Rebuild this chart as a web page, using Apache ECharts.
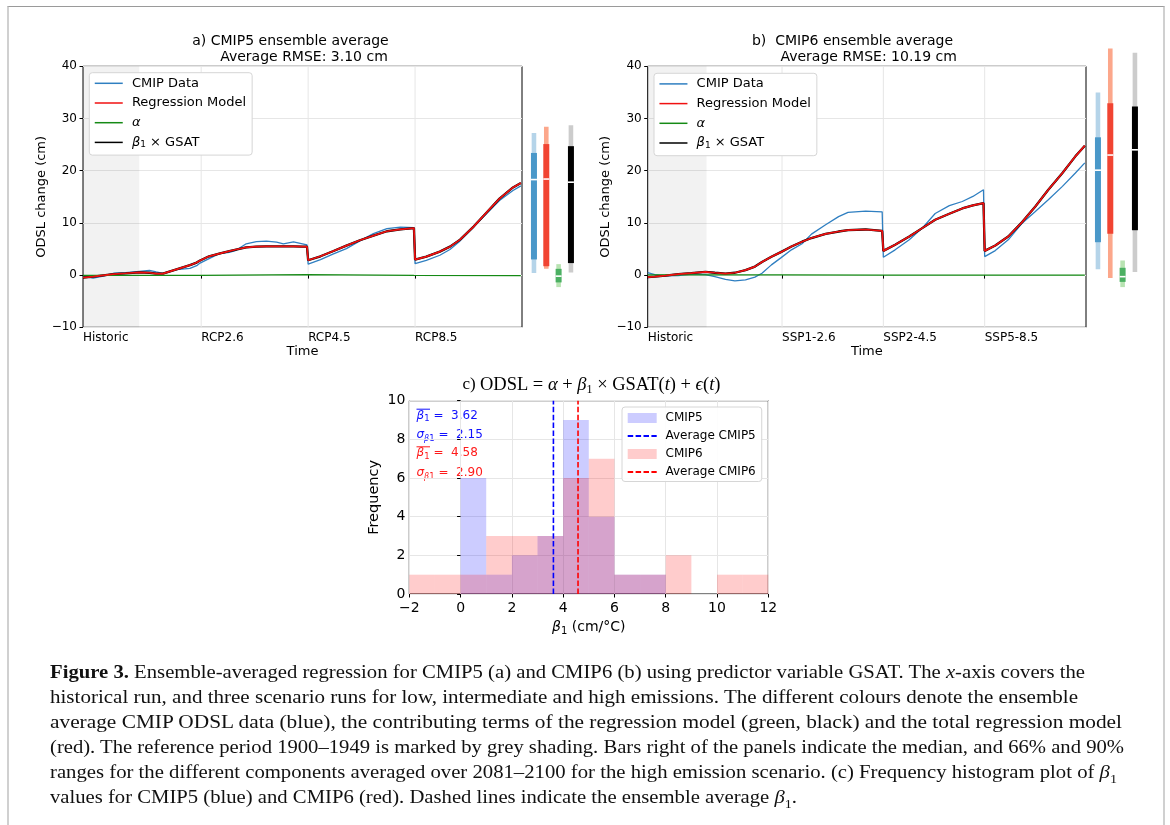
<!DOCTYPE html>
<html>
<head>
<meta charset="utf-8">
<script src="https://cdn.jsdelivr.net/npm/echarts@6/dist/echarts.min.js"></script>
<style>
    html, body { margin: 0; padding: 0; background: #fff; }
    #wrap { position: relative; width: 1170px; height: 825px; overflow: hidden; }
    #chart { position: absolute; left: 0; top: 0; width: 1170px; height: 825px; }
    #frame { position: absolute; left: 7px; top: 6px; width: 1154px; height: 840px;
        border-top: 1px solid #9a9a9a; border-left: 2px solid #d0d0d0; border-right: 2px solid #d0d0d0; }
    #caption { position: absolute; left: 50px; top: 659px; font-family: 'Liberation Serif', serif;
        font-size: 19px; line-height: 25px; color: #111; }
    #caption div { white-space: nowrap; width: max-content; transform-origin: 0 50%; }
    #caption sub { font-size: 13px; line-height: 0; }
</style>
</head>
<body>
<div id="wrap">
    <div id="chart"></div>
    <div id="frame"></div>
    <div id="caption">
        <div><b>Figure 3.</b> Ensemble-averaged regression for CMIP5 (a) and CMIP6 (b) using predictor variable GSAT. The <i>x</i>-axis covers the</div>
        <div>historical run, and three scenario runs for low, intermediate and high emissions. The different colours denote the ensemble</div>
        <div>average CMIP ODSL data (blue), the contributing terms of the regression model (green, black) and the total regression model</div>
        <div>(red). The reference period 1900–1949 is marked by grey shading. Bars right of the panels indicate the median, and 66% and 90%</div>
        <div>ranges for the different components averaged over 2081–2100 for the high emission scenario. (c) Frequency histogram plot of <i>β</i><sub>1</sub></div>
        <div>values for CMIP5 (blue) and CMIP6 (red). Dashed lines indicate the ensemble average <i>β</i><sub>1</sub>.</div>
    </div>
</div>
<script>
    // ---- panel a: CMIP5 (historic + RCP2.6 / RCP4.5 / RCP8.5)
    const histYearsA = [1901, 1910, 1919, 1928, 1939, 1951, 1960, 1966, 1972, 1984, 1996, 2002, 2005];
    const histDataA  = [-0.23, -0.6, -0.2, 0.35, 0.47, 0.73, 0.92, 0.6, 0.35, 1.05, 1.3, 1.8, 2.3];
    const histRegA   = [-0.5, -0.3, -0.05, 0.2, 0.35, 0.53, 0.45, 0.3, 0.28, 1.1, 1.9, 2.4, 2.8];
    const rcp26Years = [2006, 2013, 2022, 2031, 2037, 2046, 2055, 2064, 2073, 2079, 2088, 2096, 2100];
    const rcp26Data  = [2.4, 3.15, 4.1, 4.35, 4.75, 6.0, 6.4, 6.5, 6.3, 6.0, 6.35, 6.0, 5.77];
    const rcp26Reg   = [2.9, 3.6, 4.1, 4.6, 4.9, 5.3, 5.45, 5.5, 5.5, 5.5, 5.5, 5.45, 5.45];
    const rcp45Years = [2006, 2017, 2028, 2040, 2052, 2064, 2076, 2088, 2100];
    const rcp45Data  = [2.1, 2.97, 4.0, 5.07, 6.55, 7.95, 8.9, 9.2, 9.1];
    const rcp45Reg   = [2.85, 3.6, 4.56, 5.65, 6.67, 7.57, 8.4, 8.77, 9.0];
    const rcp85Years = [2006, 2016, 2028, 2037, 2046, 2058, 2070, 2081, 2093, 2100];
    const rcp85Data  = [2.2, 2.83, 3.8, 4.9, 6.55, 9.2, 11.9, 14.3, 16.2, 17.1];
    const rcp85Reg   = [2.97, 3.54, 4.5, 5.45, 6.8, 9.3, 12.1, 14.65, 16.8, 17.65];
    const alphaA     = [-0.05, 0.1, -0.05, -0.1];
    const ticksA     = ['Historic', 'RCP2.6', 'RCP4.5', 'RCP8.5'];

    // ---- panel b: CMIP6 (historic + SSP1-2.6 / SSP2-4.5 / SSP5-8.5)
    const histYearsB  = [1901, 1907, 1916, 1927, 1938, 1950, 1958, 1967, 1975, 1984, 1992, 1998, 2006, 2014];
    const histDataB   = [0.48, 0.1, -0.15, -0.1, 0.17, 0.1, -0.28, -0.8, -1.1, -0.92, -0.4, 0.36, 1.96, 3.3];
    const histRegB    = [-0.4, -0.3, -0.1, 0.2, 0.36, 0.6, 0.45, 0.29, 0.45, 0.95, 1.63, 2.5, 3.5, 4.4];
    const ssp126Years = [2015, 2023, 2032, 2040, 2052, 2063, 2071, 2086, 2100];
    const ssp126Data  = [3.5, 4.84, 6.0, 7.85, 9.64, 11.2, 12.0, 12.26, 12.13];
    const ssp126Reg   = [4.55, 5.47, 6.4, 7.1, 7.9, 8.35, 8.6, 8.74, 8.48];
    const ssp245Years = [2015, 2025, 2037, 2048, 2059, 2071, 2082, 2091, 2100];
    const ssp245Data  = [3.43, 4.84, 6.76, 9.0, 11.8, 13.3, 14.1, 15.07, 16.35];
    const ssp245Reg   = [4.64, 5.8, 7.4, 9.0, 10.6, 11.75, 12.77, 13.35, 13.8];
    const ssp585Years = [2015, 2024, 2035, 2047, 2058, 2069, 2081, 2092, 2100];
    const ssp585Data  = [3.55, 4.7, 6.76, 10.0, 12.2, 14.43, 17.0, 19.56, 21.5];
    const ssp585Reg   = [4.64, 5.66, 7.4, 10.2, 13.15, 16.35, 19.56, 22.75, 24.8];
    const alphaB      = [0.05, 0, 0, 0];
    const ticksB      = ['Historic', 'SSP1-2.6', 'SSP2-4.5', 'SSP5-8.5'];

    // ---- bars right of panels, order: CMIP data, regression, alpha, beta1*GSAT (2081-2100, high emission)
    const barMedianA = [18.3, 18.4, -0.2, 17.8];
    const barLo66A   = [3.0, 1.7, -1.4, 2.3];
    const barHi66A   = [23.4, 25.1, 1.2, 24.7];
    const barLo90A   = [0.4, 1.2, -2.3, 0.5];
    const barHi90A   = [27.2, 28.4, 2.1, 28.7];
    const barMedianB = [20.1, 23.0, -0.3, 24.0];
    const barLo66B   = [6.3, 7.9, -1.3, 8.6];
    const barHi66B   = [26.4, 32.9, 1.4, 32.3];
    const barLo90B   = [1.1, -0.55, -2.3, 0.6];
    const barHi90B   = [35.0, 43.4, 2.8, 42.6];

    // ---- panel c: histogram of beta1
    const binEdges    = [-2, -1, 0, 1, 2, 3, 4, 5, 6, 7, 8, 9, 10, 11, 12];
    const cmip5Counts = [0, 0, 6, 1, 2, 3, 9, 4, 1, 1, 0, 0, 0, 0];
    const cmip6Counts = [1, 1, 1, 3, 3, 3, 6, 7, 1, 1, 2, 0, 1, 1];
    const betaMean    = [3.62, 4.58];
    const betaStd     = [2.15, 2.90];

    const barColors = [
        { dark: '#4a98c9', light: '#b5d4e9' },
        { dark: '#f14432', light: '#fca78b' },
        { dark: '#4bb062', light: '#b8e3b2' },
        { dark: '#000000', light: '#cccccc' }
    ];
    const FONT = 'DejaVu Sans';
    const minus = v => String(v).replace('-', '\u2212');

    // position on the time axis: historic years first, then each scenario segment
    const posA = (s, y) => s === 0 ? y - 1901 : 105 + 95 * (s - 1) + (y - 2006);
    const posB = (s, y) => s === 0 ? y - 1901 : 114 + 86 * (s - 1) + (y - 2015);
    const tickPosA = [0, 105, 200, 295];
    const tickPosB = [0, 114, 200, 286];

    function join(pos, years, vals) {
        const out = [];
        years.forEach((ys, s) => ys.forEach((y, i) => out.push([pos(s, y), vals[s][i]])));
        return out;
    }
    function alphaLine(pos, years, alpha) {
        const out = [];
        years.forEach((ys, s) => {
            out.push([pos(s, ys[0]), alpha[s]]);
            out.push([pos(s, ys[ys.length - 1]), alpha[s]]);
        });
        return out;
    }

    const yearsA = [histYearsA, rcp26Years, rcp45Years, rcp85Years];
    const yearsB = [histYearsB, ssp126Years, ssp245Years, ssp585Years];
    const dataA = join(posA, yearsA, [histDataA, rcp26Data, rcp45Data, rcp85Data]);
    const regA  = join(posA, yearsA, [histRegA, rcp26Reg, rcp45Reg, rcp85Reg]);
    const dataB = join(posB, yearsB, [histDataB, ssp126Data, ssp245Data, ssp585Data]);
    const regB  = join(posB, yearsB, [histRegB, ssp126Reg, ssp245Reg, ssp585Reg]);

    function timeSeries(idx, data, reg, alpha, gridTicks) {
        const base = { type: 'line', xAxisIndex: idx, yAxisIndex: idx, symbol: 'none', silent: true, animation: false };
        return [
            {
                // vertical grid lines at the scenario ticks + grey reference period
                type: 'custom', xAxisIndex: idx, yAxisIndex: idx, silent: true, animation: false, z: 0,
                data: gridTicks.slice(1).map(v => [v]),
                renderItem(params, api) {
                    const p0 = api.coord([api.value(0), -10]);
                    const p1 = api.coord([api.value(0), 40]);
                    return { type: 'line', shape: { x1: p0[0], y1: p0[1], x2: p1[0], y2: p1[1] }, style: { stroke: '#e6e6e6', lineWidth: 1 } };
                },
                markArea: { silent: true, z: 0, itemStyle: { color: 'rgba(0,0,0,0.05)' }, data: [[{ xAxis: 0 }, { xAxis: 50 }]] }
            },
            Object.assign({}, base, { name: 'CMIP Data', data: data, z: 2, lineStyle: { color: '#2f7fc1', width: 1.3 }, itemStyle: { color: '#2f7fc1' } }),
            Object.assign({}, base, { name: 'β1 × GSAT', data: reg, z: 3, lineStyle: { color: '#000', width: 2.3 }, itemStyle: { color: '#000' } }),
            Object.assign({}, base, { name: 'Regression Model', data: reg, z: 4, lineStyle: { color: '#f01010', width: 1.7 }, itemStyle: { color: '#f01010' } }),
            Object.assign({}, base, { name: 'α', data: alpha, z: 3, lineStyle: { color: '#158a15', width: 1.4 }, itemStyle: { color: '#158a15' } })
        ];
    }

    function barSeries(idx, med, lo66, hi66, lo90, hi90) {
        return {
            type: 'custom', xAxisIndex: idx, yAxisIndex: idx, silent: true, clip: false, animation: false,
            data: med.map((m, i) => [i, m, lo66[i], hi66[i], lo90[i], hi90[i]]),
            renderItem(params, api) {
                const i = api.value(0);
                const med = api.coord([i, api.value(1)]);
                const l66 = api.coord([i, api.value(2)]);
                const h66 = api.coord([i, api.value(3)]);
                const l90 = api.coord([i, api.value(4)]);
                const h90 = api.coord([i, api.value(5)]);
                const c = barColors[i];
                return { type: 'group', children: [
                    { type: 'rect', shape: { x: med[0] - 2.3, y: h90[1], width: 4.6, height: l90[1] - h90[1] }, style: { fill: c.light } },
                    { type: 'rect', shape: { x: med[0] - 3, y: h66[1], width: 6, height: l66[1] - h66[1] }, style: { fill: c.dark } },
                    { type: 'rect', shape: { x: med[0] - 3, y: med[1] - 0.8, width: 6, height: 1.6 }, style: { fill: '#fff' } }
                ]};
            }
        };
    }

    function histSeries(name, counts, color) {
        return {
            type: 'custom', name: name, xAxisIndex: 4, yAxisIndex: 4, silent: true, animation: false,
            itemStyle: { color: color },
            data: counts.map((c, i) => [binEdges[i], binEdges[i + 1], c]),
            renderItem(params, api) {
                const p0 = api.coord([api.value(0), 0]);
                const p1 = api.coord([api.value(1), api.value(2)]);
                return { type: 'rect', shape: { x: p0[0], y: p1[1], width: p1[0] - p0[0], height: p0[1] - p1[1] }, style: { fill: color } };
            }
        };
    }

    function meanLine(name, v, color) {
        return { type: 'line', name: name, xAxisIndex: 4, yAxisIndex: 4, symbol: 'none', silent: true, animation: false, z: 5,
            data: [[v, 0], [v, 10]], lineStyle: { color: color, width: 1.6, type: [5.5, 2.4] }, itemStyle: { color: color } };
    }

    const tickStyle = { show: true, length: 3.5, lineStyle: { color: '#000', width: 1 } };
    const gridLine = { show: true, lineStyle: { color: '#e6e6e6', width: 1 } };

    function timeXAxis(idx, max, tickPos, labels) {
        return {
            type: 'value', gridIndex: idx, min: 0, max: max,
            name: 'Time', nameLocation: 'middle', nameGap: 18,
            nameTextStyle: { fontSize: 13, color: '#000', fontFamily: FONT },
            axisLine: { show: false },
            axisTick: Object.assign({ customValues: tickPos }, tickStyle),
            axisLabel: { customValues: tickPos, align: 'left', margin: 5, fontSize: 12, color: '#000', fontFamily: FONT,
                formatter: v => labels[tickPos.indexOf(v)] },
            splitLine: { show: false }
        };
    }
    function odslYAxis(idx) {
        return {
            type: 'value', gridIndex: idx, min: -10, max: 40, interval: 10,
            name: 'ODSL change (cm)', nameLocation: 'middle', nameGap: 35,
            nameTextStyle: { fontSize: 13, color: '#000', fontFamily: FONT },
            axisLine: { show: false }, axisTick: tickStyle,
            axisLabel: { margin: 6, fontSize: 12, color: '#000', fontFamily: FONT, formatter: minus },
            splitLine: gridLine
        };
    }

    const legendRich = {
        it: { fontStyle: 'italic', fontSize: 13, fontFamily: FONT, lineHeight: 14 },
        sub: { fontSize: 9, fontFamily: FONT, verticalAlign: 'bottom' }
    };
    const noMarker = { opacity: 0 };
    function panelLegend(left, top) {
        return {
            orient: 'vertical', left: left, top: top, selectedMode: false, z: 10,
            data: ['CMIP Data', 'Regression Model', 'α', 'β1 × GSAT'],
            padding: [3.6, 6, 5.7, 4.7], itemGap: 5.7, itemWidth: 28, itemHeight: 14,
            itemStyle: noMarker, lineStyle: { width: 1.5 },
            borderColor: '#d6d6d6', borderWidth: 1, borderRadius: 3, backgroundColor: '#ffffff',
            textStyle: { fontSize: 13, color: '#000', fontFamily: FONT, lineHeight: 14, rich: legendRich },
            formatter: n => n === 'α' ? ' {it|α}' : n === 'β1 × GSAT' ? ' {it|β}{sub|1} × GSAT' : ' ' + n
        };
    }

    // text annotations
    const txt = (x, y, text, font, align, extra) => ({ type: 'text', x: x, y: y, silent: true,
        style: Object.assign({ text: text, font: font, fill: '#000', align: align, textAlign: align,
            verticalAlign: 'middle', textVerticalAlign: 'middle' }, extra || {}) });
    const titleFont = '14px "DejaVu Sans"';
    const statColors = ['#1010ff', '#ff1a1a'];
    const statRich = c => ({
        b: { fontSize: 12, fontStyle: 'italic', fill: c, fontFamily: FONT },
        s: { fontSize: 8.5, fill: c, fontFamily: FONT, verticalAlign: 'bottom' },
        ss: { fontSize: 8, fontStyle: 'italic', fill: c, fontFamily: FONT, verticalAlign: 'bottom' },
        t: { fontSize: 12, fill: c, fontFamily: FONT }
    });
    const statY = [415.7, 435, 453.3, 473.3];
    const statGraphics = [];
    betaMean.forEach((m, k) => {
        const c = statColors[k];
        statGraphics.push(txt(416.5, statY[2 * k], '{b|β}{s|1}{t| =  ' + m.toFixed(2) + '}', '12px "DejaVu Sans"', 'left',
            { rich: statRich(c), lineHeight: 16 }));
        statGraphics.push({ type: 'line', silent: true, shape: { x1: 416.5, y1: statY[2 * k] - 6.5, x2: 430, y2: statY[2 * k] - 6.5 },
            style: { stroke: c, lineWidth: 1 } });
        statGraphics.push(txt(416.5, statY[2 * k + 1], '{b|σ}{ss|β}{s|1}{t| =  ' + betaStd[k].toFixed(2) + '}', '12px "DejaVu Sans"', 'left',
            { rich: statRich(c), lineHeight: 16 }));
    });

    const mathRich = {
        n: { fontSize: 17, fontFamily: 'Liberation Serif' },
        m: { fontSize: 18.5, fontFamily: 'Liberation Serif' },
        i: { fontSize: 18.5, fontFamily: 'Liberation Serif', fontStyle: 'italic' },
        s: { fontSize: 12, fontFamily: 'Liberation Serif', verticalAlign: 'bottom' }
    };

    const option = {
        backgroundColor: '#fff',
        animation: false,
        textStyle: { fontFamily: FONT },
        grid: [
            { left: 83, top: 66.3, width: 439, height: 261, show: true, borderColor: '#000', borderWidth: 1, backgroundColor: 'transparent' },
            { left: 527.8, top: 66.3, width: 49.3, height: 261 },
            { left: 647.7, top: 66.3, width: 438.3, height: 261, show: true, borderColor: '#000', borderWidth: 1, backgroundColor: 'transparent' },
            { left: 1091.8, top: 66.3, width: 49.3, height: 261 },
            { left: 409.3, top: 400.7, width: 359, height: 193.3, show: true, borderColor: '#000', borderWidth: 1, backgroundColor: 'transparent' }
        ],
        xAxis: [
            timeXAxis(0, 390, tickPosA, ticksA),
            { type: 'value', gridIndex: 1, min: -0.5, max: 3.5, show: false },
            timeXAxis(2, 372, tickPosB, ticksB),
            { type: 'value', gridIndex: 3, min: -0.5, max: 3.5, show: false },
            { type: 'value', gridIndex: 4, min: -2, max: 12, interval: 2,
              name: '{it|β}{sub|1} (cm/°C)', nameLocation: 'middle', nameGap: 24,
              nameTextStyle: { fontSize: 14, color: '#000', fontFamily: FONT, lineHeight: 18,
                  rich: { it: { fontSize: 14, fontStyle: 'italic', fontFamily: FONT }, sub: { fontSize: 10, fontFamily: FONT, verticalAlign: 'bottom' } } },
              axisLine: { show: false }, axisTick: tickStyle,
              axisLabel: { margin: 7, fontSize: 14, color: '#000', fontFamily: FONT, formatter: minus },
              splitLine: gridLine }
        ],
        yAxis: [
            odslYAxis(0),
            { type: 'value', gridIndex: 1, min: -10, max: 40, show: false },
            odslYAxis(2),
            { type: 'value', gridIndex: 3, min: -10, max: 40, show: false },
            { type: 'value', gridIndex: 4, min: 0, max: 10, interval: 2,
              name: 'Frequency', nameLocation: 'middle', nameGap: 28,
              nameTextStyle: { fontSize: 14.5, color: '#000', fontFamily: FONT },
              axisLine: { show: false }, axisTick: tickStyle,
              axisLabel: { margin: 4, fontSize: 14, color: '#000', fontFamily: FONT },
              splitLine: gridLine }
        ],
        legend: [
            panelLegend(89.3, 72.7),
            panelLegend(654, 73.3),
            {
                orient: 'vertical', left: 622, top: 407, selectedMode: false, z: 10,
                data: [{ name: 'CMIP5', icon: 'rect' }, { name: 'Average CMIP5', itemStyle: noMarker },
                       { name: 'CMIP6', icon: 'rect' }, { name: 'Average CMIP6', itemStyle: noMarker }],
                padding: [4, 6, 2.5, 4.7], itemGap: 4, itemWidth: 29, itemHeight: 10,
                borderColor: '#d6d6d6', borderWidth: 1, borderRadius: 3, backgroundColor: 'rgba(255,255,255,0.9)',
                textStyle: { fontSize: 12, color: '#000', fontFamily: FONT, lineHeight: 14 },
                formatter: n => ' ' + n
            }
        ],
        graphic: [
            txt(290.5, 41, 'a) CMIP5 ensemble average', titleFont, 'center'),
            txt(304, 57, 'Average RMSE: 3.10 cm', titleFont, 'center'),
            txt(852.5, 41, 'b)  CMIP6 ensemble average', titleFont, 'center'),
            txt(868.7, 57, 'Average RMSE: 10.19 cm', titleFont, 'center'),
            txt(591.5, 385, '{n|c) }{m|ODSL = }{i|α}{m| + }{i|β}{s|1}{m| × GSAT(}{i|t}{m|) + }{i|ϵ}{m|(}{i|t}{m|)}', '18.5px "Liberation Serif"', 'center',
                { rich: mathRich, lineHeight: 22 })
        ].concat(statGraphics),
        series: [].concat(
            timeSeries(0, dataA, regA, alphaLine(posA, yearsA, alphaA), tickPosA),
            [barSeries(1, barMedianA, barLo66A, barHi66A, barLo90A, barHi90A)],
            timeSeries(2, dataB, regB, alphaLine(posB, yearsB, alphaB), tickPosB),
            [barSeries(3, barMedianB, barLo66B, barHi66B, barLo90B, barHi90B)],
            [
                histSeries('CMIP5', cmip5Counts, 'rgba(0,0,255,0.2)'),
                meanLine('Average CMIP5', betaMean[0], '#0000ff'),
                histSeries('CMIP6', cmip6Counts, 'rgba(255,0,0,0.2)'),
                meanLine('Average CMIP6', betaMean[1], '#ff0000')
            ]
        )
    };

    const myChart = echarts.init(document.getElementById('chart'), null, { renderer: 'canvas' });
    myChart.setOption(option);

    // fit each caption line to the width it has in the printed figure
    const captionWidths = [1035, 1028, 1072, 1074, 1067, 747];
    document.querySelectorAll('#caption div').forEach((d, i) => {
        const w = d.getBoundingClientRect().width;
        if (w > 0) d.style.transform = 'scaleX(' + (captionWidths[i] / w).toFixed(4) + ')';
    });
</script>
</body>
</html>
